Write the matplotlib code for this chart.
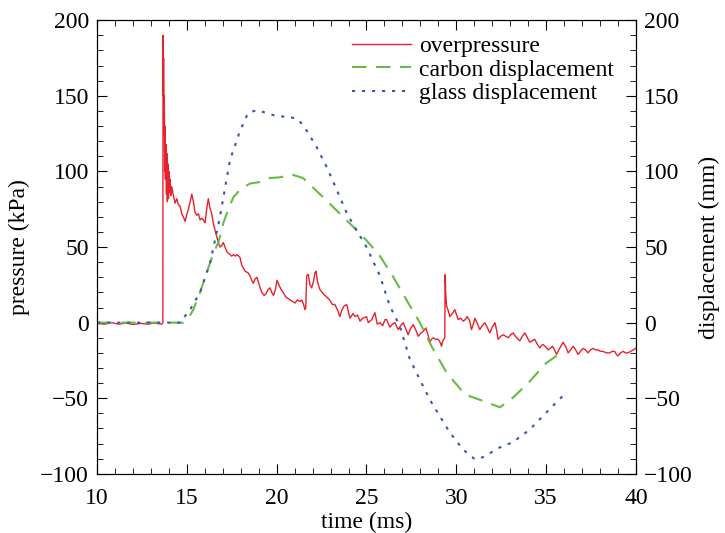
import numpy as np
import matplotlib.pyplot as plt
from matplotlib.ticker import MultipleLocator

plt.rcParams['font.family'] = ['Liberation Serif', 'DejaVu Serif']
plt.rcParams['font.size'] = 17

# overpressure (kPa)
t_p = [10.0, 10.4, 10.8, 11.2, 11.6, 12.0, 12.4, 12.8, 13.2, 13.6,
       13.66, 13.67, 13.69, 13.70, 13.72, 13.74, 13.76, 13.78, 13.80, 13.83,
       13.86, 13.88, 13.91, 13.94, 13.97, 14.00, 14.03, 14.06, 14.10, 14.15,
       14.25, 14.34, 14.44, 14.52, 14.62, 14.71, 14.80, 14.90, 15.00, 15.08,
       15.18, 15.27, 15.36, 15.45, 15.55, 15.64, 15.73, 15.85, 16.01, 16.10,
       16.19, 16.28, 16.38, 16.48, 16.57, 16.66, 16.75, 16.84, 16.94, 17.03,
       17.12, 17.22, 17.31, 17.40, 17.49, 17.60, 17.70, 17.80, 17.96, 18.05,
       18.24, 18.40, 18.51, 18.61, 18.70, 18.80, 18.90, 19.05, 19.17, 19.30,
       19.40, 19.52, 19.63, 19.72, 19.82, 19.93, 20.02, 20.12, 20.24, 20.36,
       20.50, 20.63, 20.74, 20.88, 21.02, 21.15, 21.30, 21.39, 21.50, 21.57,
       21.62, 21.67, 21.76, 21.85, 21.95, 22.06, 22.13, 22.19, 22.27, 22.40,
       22.59, 22.78, 22.95, 23.10, 23.24, 23.40, 23.52, 23.62, 23.75, 23.90,
       24.08, 24.25, 24.36, 24.50, 24.64, 24.80, 25.00, 25.10, 25.29, 25.47,
       25.60, 25.75, 25.90, 26.03, 26.12, 26.30, 26.45, 26.58, 26.77, 26.90,
       27.05, 27.18, 27.32, 27.45, 27.60, 27.75, 27.88, 28.02, 28.16, 28.31,
       28.42, 28.53, 28.62, 28.71, 28.85, 28.99, 29.10, 29.18, 29.25, 29.31,
       29.36, 29.38, 29.41, 29.46, 29.55, 29.64, 29.78, 29.92, 30.02, 30.11,
       30.25, 30.38, 30.50, 30.61, 30.75, 30.85, 30.95, 31.04, 31.15, 31.31,
       31.45, 31.59, 31.72, 31.87, 32.00, 32.15, 32.25, 32.33, 32.48, 32.61,
       32.75, 32.89, 33.03, 33.17, 33.30, 33.45, 33.54, 33.68, 33.82, 33.96,
       34.10, 34.24, 34.37, 34.50, 34.65, 34.75, 34.84, 34.98, 35.11, 35.24,
       35.36, 35.47, 35.58, 35.76, 35.95, 36.10, 36.23, 36.37, 36.51, 36.65,
       36.78, 36.92, 37.06, 37.20, 37.34, 37.48, 37.62, 37.76, 37.90, 38.03,
       38.17, 38.36, 38.55, 38.68, 38.82, 38.92, 39.01, 39.15, 39.29, 39.43,
       39.57, 39.71, 39.85, 40.0]
p = [-0.5, -1.0, 0.0, -1.0, -0.3, -1.2, -0.5, -1.0, -0.3, -1.0,
     0.0, 190.0, 150.0, 175.0, 125.0, 150.0, 100.0, 130.0, 95.0, 118.0,
     85.0, 112.0, 80.0, 105.0, 82.0, 100.0, 86.0, 95.0, 84.0, 90.0,
     84.0, 79.0, 82.0, 78.0, 77.0, 72.0, 70.0, 67.0, 72.0, 75.0,
     80.0, 85.0, 80.0, 73.0, 71.0, 72.0, 68.0, 69.0, 66.0, 75.0,
     82.0, 76.0, 72.0, 65.0, 61.0, 57.0, 53.0, 50.0, 51.0, 53.0,
     50.0, 47.0, 46.0, 45.0, 44.0, 45.0, 44.0, 45.0, 43.0, 38.0,
     34.0, 33.0, 31.0, 28.0, 26.0, 29.0, 30.0, 24.0, 20.0, 18.0,
     19.0, 22.0, 23.0, 20.0, 18.0, 22.0, 28.0, 25.0, 22.0, 20.0,
     17.0, 16.0, 15.0, 14.0, 13.0, 15.0, 14.0, 15.0, 12.0, 8.6,
     10.0, 31.0, 32.0, 25.0, 23.0, 28.0, 33.0, 34.0, 27.0, 22.0,
     19.0, 17.0, 15.0, 12.0, 12.0, 8.0, 4.0, 8.0, 11.0, 12.0,
     3.0, 6.0, 4.0, 5.0, 1.0, 3.0, 4.0, 0.0, 2.0, 6.6,
     -1.0, 0.0, -2.0, 2.0, 2.0, -3.0, -1.0, 0.0, -4.6, -2.0,
     0.0, -4.0, -8.0, -4.0, -1.3, -5.0, -9.0, -7.0, -5.7, -3.5,
     -8.0, -13.0, -11.0, -10.0, -11.0, -11.0, -13.0, -15.6, -12.0, -11.0,
     -10.0, 31.7, 20.0, 11.0, 8.0, 4.0, 6.0, 8.6, 5.0, 2.0,
     3.0, 1.0, 2.0, 4.0, 1.0, -4.6, -1.0, 3.0, 0.0, -4.6,
     -2.0, 0.0, -3.0, -6.8, -3.0, 0.0, -5.0, -11.0, -9.0, -8.0,
     -9.0, -10.0, -8.0, -6.8, -9.0, -11.0, -12.0, -9.0, -6.8, -10.0,
     -13.0, -12.0, -11.0, -14.0, -16.7, -15.0, -14.5, -16.0, -18.0, -17.0,
     -15.6, -18.0, -21.0, -17.0, -13.0, -16.0, -20.0, -18.0, -15.6, -18.0,
     -21.0, -19.0, -17.0, -18.0, -20.0, -18.0, -17.0, -18.0, -18.0, -19.0,
     -19.0, -20.0, -20.0, -19.0, -19.0, -21.0, -22.0, -20.0, -19.0, -20.0,
     -20.0, -19.0, -18.0, -17.0]

# carbon displacement (mm)
t_c = [10.0, 12.0, 14.0, 14.8, 15.18, 15.36, 15.73, 16.10, 16.47, 16.75,
       17.03, 17.31, 17.59, 17.96, 18.51, 19.07, 19.63, 20.09, 20.9, 21.46,
       22.58, 23.7, 24.8, 25.36, 25.75, 26.5, 27.23, 27.97, 28.62, 29.46,
       30.48, 31.31, 32.43, 33.17, 34.1, 35.02, 35.95]
c = [0.0, 0.0, 0.0, 0.0, 5.0, 8.6, 20.0, 33.0, 46.0, 53.0,
     66.0, 75.0, 83.0, 88.0, 92.0, 93.0, 95.7, 96.0, 97.7, 95.7,
     83.0, 70.0, 57.0, 49.5, 44.0, 30.0, 15.0, 0.0, -15.6, -33.0,
     -47.5, -51.0, -56.0, -49.5, -38.7, -26.6, -19.0]

# glass displacement (mm)
t_g = [10.0, 12.0, 14.0, 14.6, 15.18, 15.73, 16.29, 16.84, 17.4, 17.96,
       18.4, 18.89, 19.44, 20.0, 20.74, 21.2, 21.67, 22.23, 22.78, 23.34,
       23.9, 24.45, 25.0, 25.75, 26.3, 26.86, 27.42, 27.97, 28.53, 29.09,
       29.64, 30.38, 31.04, 31.48, 32.43, 33.17, 34.1, 35.02, 35.92]
g = [0.0, 0.0, 0.0, 0.0, 8.6, 20.0, 39.6, 70.0, 107.6, 127.0,
     138.6, 140.6, 138.6, 136.6, 136.0, 134.5, 127.0, 116.0, 103.0, 88.0,
     72.4, 61.0, 50.0, 31.0, 11.0, -2.4, -24.4, -37.6, -51.0, -62.0,
     -72.6, -84.0, -90.4, -89.0, -82.5, -79.0, -70.6, -59.4, -48.6]

fig = plt.figure(figsize=(7.25, 5.33), dpi=100)
ax = fig.add_axes([0.134, 0.111, 0.743, 0.851])
ax2 = ax.twinx()

l1, = ax.plot(t_p, p, color='#e8212b', lw=1.0, label='overpressure')
l2, = ax2.plot(t_c, c, color='#66bb44', lw=1.5, dashes=(7, 4.5), label='carbon displacement')
l3, = ax2.plot(t_g, g, color='#3b55a8', lw=1.5, dashes=(1.5, 3.3), label='glass displacement')

for a in (ax, ax2):
    a.set_xlim(10, 40)
    a.set_ylim(-100, 200)
    a.yaxis.set_major_locator(MultipleLocator(50))
    a.yaxis.set_minor_locator(MultipleLocator(10))
    a.xaxis.set_major_locator(MultipleLocator(5))
    a.xaxis.set_minor_locator(MultipleLocator(1))
    a.tick_params(which='both', direction='in', labelsize=17)
    a.tick_params(which='major', length=7)
    a.tick_params(which='minor', length=4)

ax.tick_params(which='both', top=True, right=False)
ax.tick_params(axis='y', pad=6)
ax.tick_params(axis='x', pad=10)
ax2.tick_params(axis='y', pad=6)

ax.set_xlabel('time (ms)', labelpad=2)
ax.set_ylabel('pressure (kPa)', labelpad=7)
ax2.set_ylabel('displacement (mm)', labelpad=4)

ax.legend(handles=[l1, l2, l3], loc='upper left', bbox_to_anchor=(0.473, 0.966),
          frameon=False, borderaxespad=0, borderpad=0, handlelength=2.5,
          labelspacing=0.08, handletextpad=0.35)

fig.savefig('out.png')
